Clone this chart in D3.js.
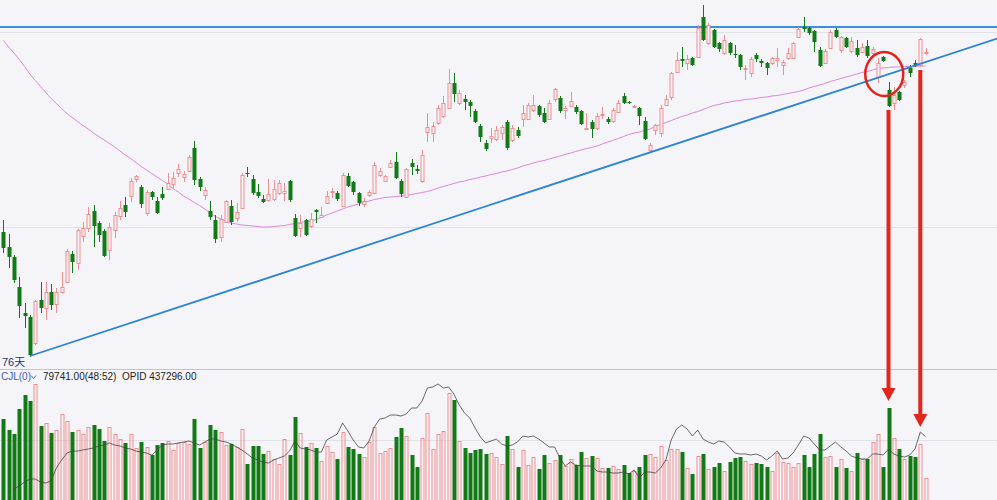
<!DOCTYPE html>
<html>
<head>
<meta charset="utf-8">
<script src="https://cdn.jsdelivr.net/npm/d3@7"></script>
<style>
    body { margin: 0; background: #f5f5f9; }
    #chart { width: 997px; height: 500px; }
    .label { font-family: "Liberation Sans", "Noto Sans CJK SC", sans-serif; font-size: 10px; }
</style>
</head>
<body>
<div id="chart"></div>
<script>
// daily candles, oldest first
const openPrices = [
    3536,3506,3486,3426,3374,3366,3314,3400,3384,3416,
    3392,3416,3436,3492,3474,3528,3544,3578,3554,3538,
    3500,3540,3568,3590,3608,3642,3626,3574,3616,3598,
    3612,3622,3632,3654,3646,3658,3704,3642,3610,3578,
    3560,3526,3556,3588,3564,3584,3654,3642,3616,3602,
    3600,3602,3614,3614,3638,3564,3544,3560,3548,3580,
    3566,3594,3616,3614,3588,3648,3636,3614,3592,3610,
    3614,3650,3638,3666,3676,3638,3606,3674,3662,3638,
    3736,3734,3754,3768,3784,3834,3794,3802,3796,3778,
    3748,3714,3724,3722,3734,3756,3720,3740,3762,3762,
    3780,3788,3774,3762,3802,3804,3780,3788,3786,3778,
    3742,3756,3744,3770,3762,3758,3776,3808,3796,3786,
    3784,3758,3700,3740,3734,3790,3806,3856,3882,3874,
    3884,3886,3966,3914,3940,3914,3894,3914,3892,3890,
    3862,3854,3890,3878,3874,3874,3880,3870,3884,3884,
    3926,3946,3944,3938,3900,3874,3904,3940,3900,3924,
    3898,3904,3896,3908,3894,3846,3886,3820,3794,3816,
    3830,3864,3874,3870,3894
];
const highPrices = [
    3560,3532,3490,3446,3394,3370,3400,3436,3436,3432,
    3424,3456,3502,3498,3542,3556,3586,3590,3558,3542,
    3554,3576,3598,3606,3644,3650,3630,3620,3618,3606,
    3626,3654,3656,3672,3658,3690,3718,3646,3626,3598,
    3570,3570,3600,3600,3594,3654,3666,3650,3632,3610,
    3642,3640,3640,3634,3640,3572,3570,3562,3574,3582,
    3586,3618,3624,3618,3654,3654,3638,3616,3604,3620,
    3676,3664,3650,3680,3696,3642,3664,3682,3670,3700,
    3774,3756,3790,3808,3862,3854,3820,3810,3800,3782,
    3752,3720,3744,3748,3750,3760,3750,3746,3790,3794,
    3810,3790,3784,3800,3824,3808,3788,3816,3790,3780,
    3774,3760,3774,3786,3766,3784,3800,3814,3798,3790,
    3786,3766,3714,3752,3790,3810,3856,3896,3906,3890,
    3886,3950,3990,3954,3942,3916,3930,3916,3910,3892,
    3870,3886,3894,3882,3876,3886,3904,3880,3904,3916,
    3946,3966,3946,3940,3906,3902,3940,3944,3928,3926,
    3926,3920,3914,3920,3906,3884,3888,3836,3826,3818,
    3840,3870,3880,3924,3904
];
const lowPrices = [
    3494,3464,3434,3364,3344,3286,3310,3374,3360,3380,
    3374,3412,3434,3454,3460,3516,3536,3506,3516,3486,
    3480,3524,3560,3566,3596,3636,3584,3568,3600,3572,
    3600,3620,3624,3646,3636,3656,3630,3618,3600,3560,
    3514,3516,3554,3550,3556,3582,3646,3610,3604,3594,
    3596,3598,3610,3598,3596,3526,3526,3528,3544,3554,
    3564,3592,3604,3598,3586,3626,3610,3588,3586,3606,
    3612,3646,3636,3664,3642,3606,3604,3650,3652,3634,
    3716,3716,3750,3764,3782,3796,3790,3780,3766,3754,
    3716,3698,3714,3718,3720,3700,3716,3724,3746,3760,
    3776,3766,3754,3760,3796,3774,3762,3786,3772,3750,
    3740,3724,3740,3762,3752,3754,3774,3792,3792,3784,
    3750,3720,3696,3730,3726,3788,3800,3854,3866,3860,
    3868,3884,3918,3910,3904,3896,3890,3890,3884,3860,
    3840,3846,3876,3866,3850,3870,3866,3850,3880,3882,
    3924,3936,3930,3896,3866,3872,3902,3924,3894,3904,
    3894,3886,3894,3884,3890,3834,3876,3786,3780,3798,
    3824,3846,3866,3866,3890
];
const closePrices = [
    3504,3486,3440,3388,3368,3290,3398,3384,3416,3390,
    3416,3426,3498,3476,3540,3544,3572,3548,3530,3488,
    3546,3570,3584,3576,3638,3648,3592,3616,3606,3574,
    3604,3634,3644,3662,3652,3686,3640,3626,3620,3566,
    3522,3562,3598,3556,3576,3650,3652,3614,3608,3596,
    3612,3622,3634,3618,3600,3528,3554,3530,3562,3576,
    3570,3608,3618,3602,3650,3628,3616,3594,3598,3616,
    3670,3658,3648,3674,3644,3612,3662,3666,3658,3690,
    3746,3748,3784,3794,3834,3812,3814,3796,3788,3756,
    3726,3702,3728,3740,3746,3704,3744,3728,3774,3790,
    3790,3770,3756,3794,3822,3778,3784,3798,3776,3752,
    3744,3742,3768,3772,3756,3780,3794,3794,3794,3788,
    3768,3722,3710,3750,3784,3802,3854,3880,3878,3882,
    3870,3944,3920,3950,3906,3902,3920,3894,3890,3866,
    3864,3882,3882,3874,3864,3884,3884,3876,3894,3914,
    3942,3942,3934,3916,3868,3898,3936,3926,3926,3906,
    3918,3890,3906,3888,3902,3874,3878,3788,3810,3800,
    3836,3854,3868,3922,3896
];
// long moving average of close
const maValues = [
    3919,3906,3894,3881,3867,3852,3839,3827,3815,3803,
    3793,3783,3773,3765,3757,3749,3742,3734,3727,3720,
    3713,3706,3698,3690,3683,3675,3667,3660,3653,3646,
    3639,3632,3623,3616,3608,3602,3595,3589,3582,3574,
    3567,3562,3558,3554,3552,3550,3549,3548,3547,3546,
    3546,3547,3548,3549,3551,3553,3555,3557,3558,3561,
    3565,3570,3574,3578,3582,3586,3589,3592,3595,3598,
    3601,3603,3605,3606,3607,3608,3609,3611,3613,3615,
    3617,3620,3624,3627,3630,3633,3636,3638,3641,3643,
    3646,3648,3651,3653,3656,3658,3661,3664,3668,3671,
    3674,3677,3679,3682,3685,3688,3691,3694,3697,3700,
    3703,3705,3708,3712,3716,3719,3723,3727,3731,3734,
    3736,3739,3742,3747,3751,3755,3759,3763,3767,3770,
    3774,3777,3781,3785,3789,3791,3794,3796,3798,3799,
    3801,3802,3803,3805,3806,3808,3809,3811,3813,3815,
    3817,3820,3824,3827,3830,3833,3837,3840,3843,3846,
    3849,3852,3855,3857,3860,3863,3864,3865,3866,3866,
    3867,3867,3867,3868,3868
];
// volume, thousand lots
const volumes = [
    316,272,255,355,412,388,455,288,301,260,
    273,335,309,264,271,256,283,293,276,228,
    285,257,236,221,257,199,224,205,173,212,
    220,228,192,220,225,215,315,201,223,292,
    271,263,212,215,205,276,136,208,208,175,
    189,155,136,236,172,325,261,203,219,199,
    149,208,185,157,265,205,195,176,163,223,
    283,179,189,199,243,279,248,172,125,239,
    339,196,256,269,419,392,229,199,179,192,
    196,175,182,164,136,248,195,125,192,132,
    165,115,172,139,152,172,128,155,132,185,
    159,169,159,119,121,128,115,132,99,109,
    123,172,175,165,208,152,195,196,183,119,
    96,168,176,115,123,141,109,143,161,164,
    149,136,139,135,123,108,179,145,139,123,
    141,172,123,176,256,165,169,123,155,121,
    108,179,155,155,225,256,123,359,239,195,
    155,168,165,216,79.741
];
// open interest, thousand lots
const openInterest = [
    null,null,385,388,392,395,395,392,391,393,
    406,414,421,423,423,424,425,426,428,429,
    431,429,428,426,425,423,422,421,419,424,
    429,430,430,431,432,433,431,429,432,435,
    435,433,432,430,427,424,420,416,414,412,
    411,414,416,418,423,433,426,425,424,422,
    422,434,437,440,451,443,434,427,426,433,
    447,455,456,459,459,458,460,466,466,473,
    486,487,490,486,487,480,469,461,456,446,
    437,431,433,435,430,428,429,432,438,437,
    438,435,431,427,427,416,408,412,409,408,
    408,408,403,402,402,401,401,402,400,404,
    396,402,402,401,406,414,434,445,449,445,
    438,444,435,432,430,433,432,427,421,420,
    420,419,420,418,414,418,423,415,416,421,
    429,438,436,430,424,424,428,432,427,423,
    418,416,415,415,420,420,419,425,420,418,
    417,419,425,442,437.296
];

const resistanceLevel = 3946;
const trendPoints = [[5, 3288], [187.5, 3923]];
const priceGridLevels = [3936, 3546];
const volumeGridLevels = [232];
const circleMark = {index: 166.2, price: 3852};
const arrowMarks = [{index: 167, tipVolume: 388}, {index: 173, tipVolume: 284}];
const cycleText = "76天";
const volumeName = "CJL(0)";
const volumeRatio = "(48:52)";

const upColor = "#ee8e8e";
const downColor = "#117a14";

class KLineVis {
    constructor(parentElement) {
        this.parentElement = parentElement;
        this.displayData = [];
        this.initVis();
    }

    initVis() {
        let vis = this;

        vis.width = 997;
        vis.height = 500;
        vis.splitY = 369.5;

        vis.svg = d3.select("#" + vis.parentElement).append("svg")
            .attr("width", vis.width)
            .attr("height", vis.height);

        vis.svg.append("rect")
            .attr("width", vis.width)
            .attr("height", vis.height)
            .attr("fill", "#f5f5f9");

        // scales
        vis.x = d3.scaleLinear().domain([0, openPrices.length - 1]).range([3.4, 925.6]);
        vis.y = d3.scaleLinear().domain([3260, 4000]).range([370, 0]);
        vis.yVol = d3.scaleLinear().domain([0, 520]).range([498, 368]);
        vis.yOI = d3.scaleLinear().domain([376, 506]).range([498, 368]);

        vis.svg.append("clipPath").attr("id", "priceClip")
            .append("rect").attr("width", vis.width).attr("height", vis.splitY);

        // grid lines
        vis.svg.selectAll(".price-grid")
            .data(priceGridLevels)
            .enter().append("line")
            .attr("class", "price-grid")
            .attr("x1", 0).attr("x2", vis.width)
            .attr("y1", d => Math.round(vis.y(d)) + 0.5)
            .attr("y2", d => Math.round(vis.y(d)) + 0.5)
            .attr("stroke", "#e1e1e8");

        vis.svg.selectAll(".vol-grid")
            .data(volumeGridLevels)
            .enter().append("line")
            .attr("class", "vol-grid")
            .attr("x1", 0).attr("x2", vis.width)
            .attr("y1", d => Math.round(vis.yVol(d)) + 0.5)
            .attr("y2", d => Math.round(vis.yVol(d)) + 0.5)
            .attr("stroke", "#e1e1e8");

        vis.svg.append("line")
            .attr("x1", 0).attr("x2", vis.width)
            .attr("y1", vis.splitY).attr("y2", vis.splitY)
            .attr("stroke", "#c3c3cc");

        vis.priceG = vis.svg.append("g").attr("clip-path", "url(#priceClip)");
        vis.volG = vis.svg.append("g");
        vis.markG = vis.svg.append("g");

        this.wrangleData();
    }

    wrangleData() {
        let vis = this;
        vis.displayData = openPrices.map((o, i) => ({
            i: i,
            open: o,
            high: highPrices[i],
            low: lowPrices[i],
            close: closePrices[i],
            ma: maValues[i],
            vol: volumes[i],
            oi: openInterest[i],
            up: closePrices[i] >= o
        }));
        this.updateVis();
    }

    updateVis() {
        let vis = this;
        const cx = d => Math.round(vis.x(d.i));
        const ry = v => Math.round(vis.y(v));

        // resistance line
        vis.priceG.append("line")
            .attr("x1", 0).attr("x2", vis.width)
            .attr("y1", vis.y(resistanceLevel)).attr("y2", vis.y(resistanceLevel))
            .attr("stroke", "#3a8fe2").attr("stroke-width", 1.8);

        // moving average
        vis.priceG.append("path")
            .datum(vis.displayData)
            .attr("fill", "none")
            .attr("stroke", "#dc86dc")
            .attr("stroke-width", 1)
            .attr("d", d3.line().x(d => vis.x(d.i)).y(d => vis.y(d.ma)).curve(d3.curveMonotoneX));

        // wicks
        vis.priceG.selectAll(".wick")
            .data(vis.displayData)
            .enter().append("path")
            .attr("class", "wick")
            .attr("stroke", d => d.up ? upColor : downColor)
            .attr("fill", "none")
            .attr("d", d => {
                const x = cx(d) + 0.5;
                if (d.up) {
                    return `M${x},${ry(d.high)}V${ry(d.close)}M${x},${ry(d.open)}V${ry(d.low)}`;
                }
                return `M${x},${ry(d.high)}V${ry(d.low)}`;
            });

        // bodies
        vis.priceG.selectAll(".body")
            .data(vis.displayData)
            .enter().append("rect")
            .attr("class", "body")
            .attr("x", d => d.up ? cx(d) - 1 : cx(d) - 1.5)
            .attr("y", d => d.up ? ry(d.close) + 0.5 : ry(d.open))
            .attr("width", d => d.up ? 3 : 4)
            .attr("height", d => Math.max(Math.abs(ry(d.open) - ry(d.close)), 1))
            .attr("fill", d => d.up ? "#f5f5f9" : downColor)
            .attr("stroke", d => d.up ? upColor : "none");

        // trend line
        vis.priceG.append("line")
            .attr("x1", vis.x(trendPoints[0][0])).attr("y1", vis.y(trendPoints[0][1]))
            .attr("x2", vis.x(trendPoints[1][0])).attr("y2", vis.y(trendPoints[1][1]))
            .attr("stroke", "#2a82da").attr("stroke-width", 1.8);

        // volume bars
        const base = Math.round(vis.yVol(0));
        vis.volG.selectAll(".vol")
            .data(vis.displayData)
            .enter().append("rect")
            .attr("class", "vol")
            .attr("x", d => d.up ? cx(d) - 1 : cx(d) - 1.5)
            .attr("y", d => Math.round(vis.yVol(d.vol)) + (d.up ? 0.5 : 0))
            .attr("width", d => d.up ? 3 : 4)
            .attr("height", d => base - Math.round(vis.yVol(d.vol)) + 2)
            .attr("fill", d => d.up ? "none" : downColor)
            .attr("stroke", d => d.up ? upColor : "none");

        // open interest
        vis.volG.append("path")
            .datum(vis.displayData)
            .attr("fill", "none")
            .attr("stroke", "#444")
            .attr("stroke-width", 0.8)
            .attr("d", d3.line().defined(d => d.oi != null).x(d => vis.x(d.i)).y(d => vis.yOI(d.oi)));

        // marks
        vis.markG.append("ellipse")
            .attr("cx", vis.x(circleMark.index))
            .attr("cy", vis.y(circleMark.price))
            .attr("rx", 19).attr("ry", 22)
            .attr("fill", "none")
            .attr("stroke", "#e3221b")
            .attr("stroke-width", 2.5);

        vis.markG.selectAll(".arrow")
            .data(arrowMarks)
            .enter().append("path")
            .attr("class", "arrow")
            .attr("fill", "#e3261d")
            .attr("d", d => {
                const x = vis.x(d.index);
                const top = vis.y(lowPrices[d.index]) + 3;
                const tip = vis.yVol(d.tipVolume);
                const neck = tip - 13;
                return `M${x - 2},${top}H${x + 2}V${neck}H${x + 7}L${x},${tip}L${x - 7},${neck}H${x - 2}Z`;
            });

        // texts
        vis.svg.append("text")
            .attr("class", "label")
            .attr("x", 2).attr("y", 366)
            .attr("fill", "#27346e")
            .style("font-size", "11px")
            .text(cycleText);

        const row = vis.svg.append("text")
            .attr("class", "label")
            .attr("y", 380);
        row.append("tspan").attr("x", 1).attr("fill", "#3c5cc4").text(volumeName);
        // little dropdown chevron
        vis.svg.append("path")
            .attr("d", "M31,375.5L33.5,378.5L36,375.5")
            .attr("fill", "none")
            .attr("stroke", "#3c5cc4")
            .attr("stroke-width", 0.9);
        row.append("tspan").attr("x", 43).attr("fill", "#222")
            .text(d3.format(".2f")(volumes[volumes.length - 1] * 1000) + volumeRatio);
        row.append("tspan").attr("x", 122).attr("fill", "#222")
            .text("OPID " + d3.format(".2f")(openInterest[openInterest.length - 1] * 1000));
    }
}

new KLineVis("chart");
</script>
</body>
</html>
